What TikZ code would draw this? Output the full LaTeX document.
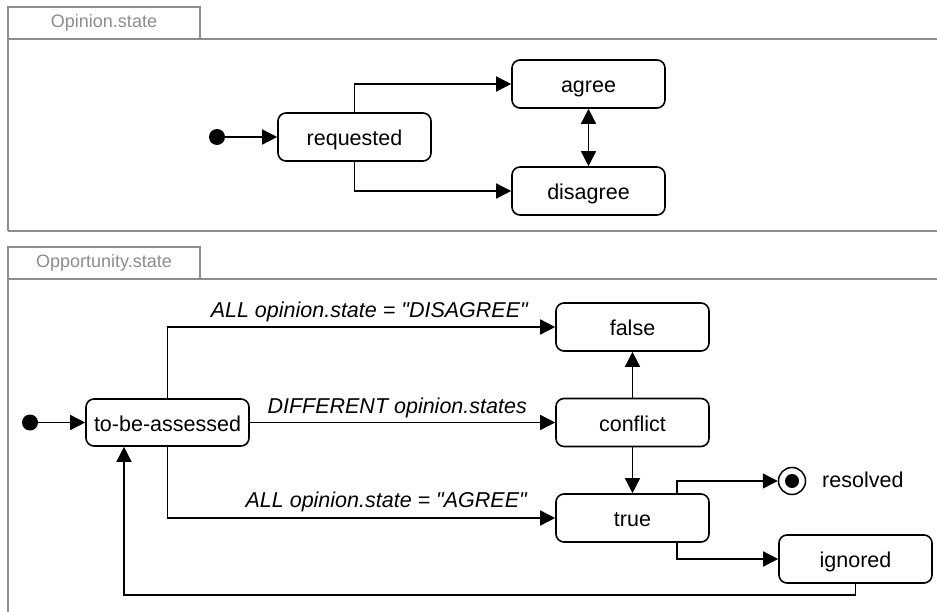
\documentclass[tikz,border=0pt]{standalone}
\usepackage{fontspec}
\setmainfont{Liberation Sans}[Ligatures=TeXOff]
\usetikzlibrary{arrows.meta}
\definecolor{framegray}{RGB}{140,140,140}
\begin{document}
\begin{tikzpicture}[x=1pt,y=-1pt,
  state/.style={draw, line width=1.6pt, rounded corners=8pt, minimum width=153pt, minimum height=48pt,
    inner sep=0pt, text height=20pt, text depth=3pt, font=\fontsize{21.5}{25}\selectfont},
  conn/.style={line width=1.5pt, -{Triangle[length=15pt,width=15pt]}},
  bothconn/.style={line width=1.5pt, {Triangle[length=15pt,width=15pt]}-{Triangle[length=15pt,width=15pt]}},
  initdot/.style={circle, fill, inner sep=0pt, minimum size=16pt},
  frameline/.style={draw=framegray, line width=1.5pt},
  tabtext/.style={text=framegray, font=\fontsize{18}{21}\selectfont, inner sep=0pt},
  guard/.style={font=\fontsize{21.5}{25}\selectfont\itshape, anchor=base east, inner sep=0pt},
  plainlabel/.style={font=\fontsize{21.5}{25}\selectfont, anchor=base west, inner sep=0pt}
]
\useasboundingbox (0,0) rectangle (937,612);
\clip (0,0) rectangle (937,612);

% frames
\draw[frameline] (8,231) -- (8,39) -- (950,39);
\draw[frameline] (8,231) -- (950,231);
\draw[frameline] (8,39) -- (8,7) -- (200,7) -- (200,39);
\node[tabtext] (tab1) at (104,23) {Opinion.state};

\draw[frameline] (8,630) -- (8,279) -- (950,279);
\draw[frameline] (8,279) -- (8,247) -- (200,247) -- (200,279);
\node[tabtext] (tab2) at (104,263) {Opportunity.state};

% Opinion.state
\node[initdot] (init1) at (217,137) {};
\node[state] (req) at (354.5,137) {requested};
\node[state] (agree) at (588.5,84) {agree};
\node[state] (disagree) at (588.5,191) {disagree};

\draw[conn] (init1) -- (req);
\draw[conn] (req.north) |- (agree.west);
\draw[conn] (req.south) |- (disagree.west);
\draw[bothconn] (agree) -- (disagree);

% Opportunity.state
\node[initdot] (init2) at (30,422.5) {};
\node[state, minimum width=163pt, minimum height=47pt] (tba) at (167.5,422.5) {to-be-assessed};
\node[state] (false) at (632.5,327) {false};
\node[state] (conflict) at (632.5,422.5) {conflict};
\node[state] (true) at (632.5,518) {true};
\node[state] (ignored) at (855.5,559) {ignored};
\node[circle, draw, line width=1.5pt, minimum size=27pt, inner sep=0pt] (final) at (792,481) {};
\node[circle, fill, minimum size=14pt, inner sep=0pt] (finaldot) at (final) {};
\node[plainlabel] (reslabel) at (822,487) {resolved};

\draw[conn] (init2) -- (tba);
\draw[conn] (tba.north) |- (false.west);
\node[guard] (g1) at (528,317) {ALL opinion.state = "DISAGREE"};
\draw[conn] (tba) -- (conflict);
\node[guard] (g2) at (527,413) {DIFFERENT opinion.states};
\draw[conn] (tba.south) |- (true.west);
\node[guard] (g3) at (527,507) {ALL opinion.state = "AGREE"};
\draw[conn] (conflict) -- (false);
\draw[conn] (conflict) -- (true);
\draw[conn] ([xshift=44.5pt]true.north) |- (final);
\draw[conn] ([xshift=44.5pt]true.south) |- (ignored.west);
\coordinate (bk) at (124,595);
\draw[conn] (ignored.south) |- (bk) -- (bk |- tba.south);
\end{tikzpicture}
\end{document}
